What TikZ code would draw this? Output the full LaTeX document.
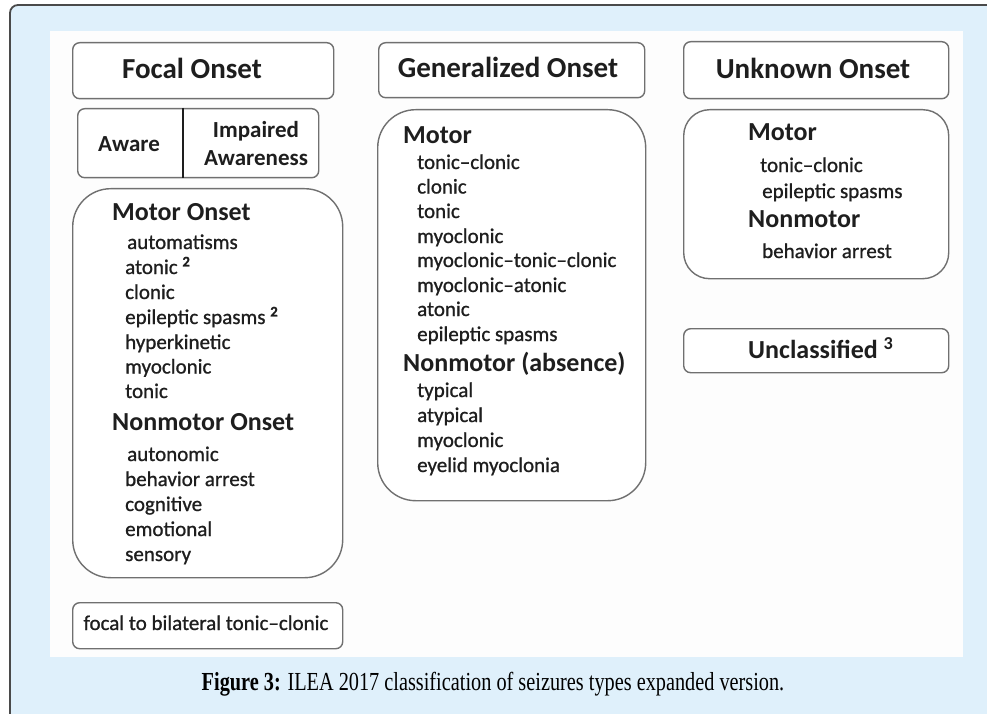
\documentclass[tikz,border=0pt]{standalone}
\usepackage{fontspec}
\setmainfont{Carlito}
\newfontfamily\itemfont[FakeBold=0.9]{Carlito}
\newfontfamily\capfont[FakeStretch=0.78]{Liberation Serif}
\definecolor{bgblue}{HTML}{DFF0FB}
\definecolor{framegray}{HTML}{4A4A4A}
\definecolor{boxgray}{HTML}{707070}
\definecolor{txt}{HTML}{1E1E1E}
\definecolor{panel}{HTML}{FDFDFD}
\begin{document}
\begin{tikzpicture}[x=1pt,y=-1pt,
  hdrbox/.style={draw=boxgray, line width=1.4pt, rounded corners=7pt, fill=white, inner sep=0pt, anchor=north west},
  grpbox/.style={draw=boxgray, line width=1.4pt, fill=white, inner sep=0pt, anchor=north west},
  item/.style={anchor=base west, inner sep=0pt, font=\itemfont\fontsize{21}{24}\selectfont, text=txt},
  head/.style={anchor=base west, inner sep=0pt, font=\fontsize{26}{30}\selectfont\bfseries, text=txt},
  title/.style={anchor=base, inner sep=0pt, font=\fontsize{29}{33}\selectfont\bfseries, text=txt},
  mid/.style={anchor=base, inner sep=0pt, font=\fontsize{23}{26}\selectfont\bfseries, text=txt},
]
\useasboundingbox (0,0) rectangle (987,714);
% outer frame
\fill[bgblue] (10,714) -- (10,13) arc[start angle=180, end angle=270, radius=8] -- (987,5) -- (987,714) -- cycle;
\draw[framegray, line width=1.8pt] (10,714) -- (10,13) arc[start angle=180, end angle=270, radius=8] -- (987,5);
% white panel
\fill[panel] (50,31) rectangle (963,657);

% ---- Focal column
\node[hdrbox, minimum width=261pt, minimum height=56pt] (fhdr) at (72,42) {};
\node[title] (fhdrt) at (192,79) {Focal Onset};

\node[hdrbox, minimum width=241pt, minimum height=69pt] (awbox) at (77,108) {};
\draw[txt, line width=2pt] ([xshift=106pt]awbox.north west) -- ([xshift=106pt]awbox.south west);
\node[mid] (awt) at (129,151.5) {Aware};
\node[mid] (imp1) at (256,137.5) {Impaired};
\node[mid] (imp2) at (256,165.5) {Awareness};

\node[grpbox, rounded corners=38pt, minimum width=270pt, minimum height=389pt] (fbox) at (72,188) {};
\node[head] (fmh) at (112,220.5) {Motor Onset};
\node[item] (f1) at (127,249) {automatisms};
\node[item] (f2) at (125,274) {atonic \textsuperscript{\bfseries 2}};
\node[item] (f3) at (125,299) {clonic};
\node[item] (f4) at (125,324) {epileptic spasms \textsuperscript{\bfseries 2}};
\node[item] (f5) at (125,349) {hyperkinetic};
\node[item] (f6) at (125,373.5) {myoclonic};
\node[item] (f7) at (125,398) {tonic};
\node[head] (fnh) at (112,430.5) {Nonmotor Onset};
\node[item] (f8) at (127,461) {autonomic};
\node[item] (f9) at (125,486) {behavior arrest};
\node[item] (f10) at (125,511) {cognitive};
\node[item] (f11) at (125,536) {emotional};
\node[item] (f12) at (125,561) {sensory};

\node[hdrbox, minimum width=270pt, minimum height=46pt] (fbil) at (72,602) {};
\node[item, anchor=base] (fbilt) at (206,630) {focal to bilateral tonic–clonic};

% ---- Generalized column
\node[hdrbox, minimum width=266pt, minimum height=55pt] (ghdr) at (378,42) {};
\node[title] (ghdrt) at (508,78) {Generalized Onset};

\node[grpbox, rounded corners=38pt, minimum width=268pt, minimum height=391pt] (gbox) at (377,109) {};
\node[head] (gmh) at (403,143.5) {Motor};
\node[item] (g1) at (417,169) {tonic–clonic};
\node[item] (g2) at (417,193.5) {clonic};
\node[item] (g3) at (417,218) {tonic};
\node[item] (g4) at (417,243) {myoclonic};
\node[item] (g5) at (417,267) {myoclonic–tonic–clonic};
\node[item] (g6) at (417,292) {myoclonic–atonic};
\node[item] (g7) at (417,316) {atonic};
\node[item] (g8) at (417,341) {epileptic spasms};
\node[head] (gnh) at (403,371.5) {Nonmotor (absence)};
\node[item] (g9) at (417,397) {typical};
\node[item] (g10) at (417,422) {atypical};
\node[item] (g11) at (417,447) {myoclonic};
\node[item] (g12) at (417,472) {eyelid myoclonia};

% ---- Unknown column
\node[hdrbox, minimum width=265pt, minimum height=57pt] (uhdr) at (683,41) {};
\node[title] (uhdrt) at (813,79) {Unknown Onset};

\node[grpbox, rounded corners=26pt, minimum width=265pt, minimum height=169pt] (ubox) at (683,109) {};
\node[head] (umh) at (748,140.5) {Motor};
\node[item] (u1) at (760,172) {tonic–clonic};
\node[item] (u2) at (762,198) {epileptic spasms};
\node[head] (unh) at (748,227.5) {Nonmotor};
\node[item] (u3) at (762,258) {behavior arrest};

\node[hdrbox, minimum width=265pt, minimum height=44pt] (ucl) at (683,328) {};
\node[head] (uclt) at (748,358.5) {Unclassified \textsuperscript{3}};

% ---- caption
\node[anchor=base, inner sep=0pt, text=black, font=\capfont\fontsize{26}{30}\selectfont] (cap) at (493,690) {\textbf{Figure 3:} ILEA 2017 classification of seizures types expanded version.};
\end{tikzpicture}
\end{document}
